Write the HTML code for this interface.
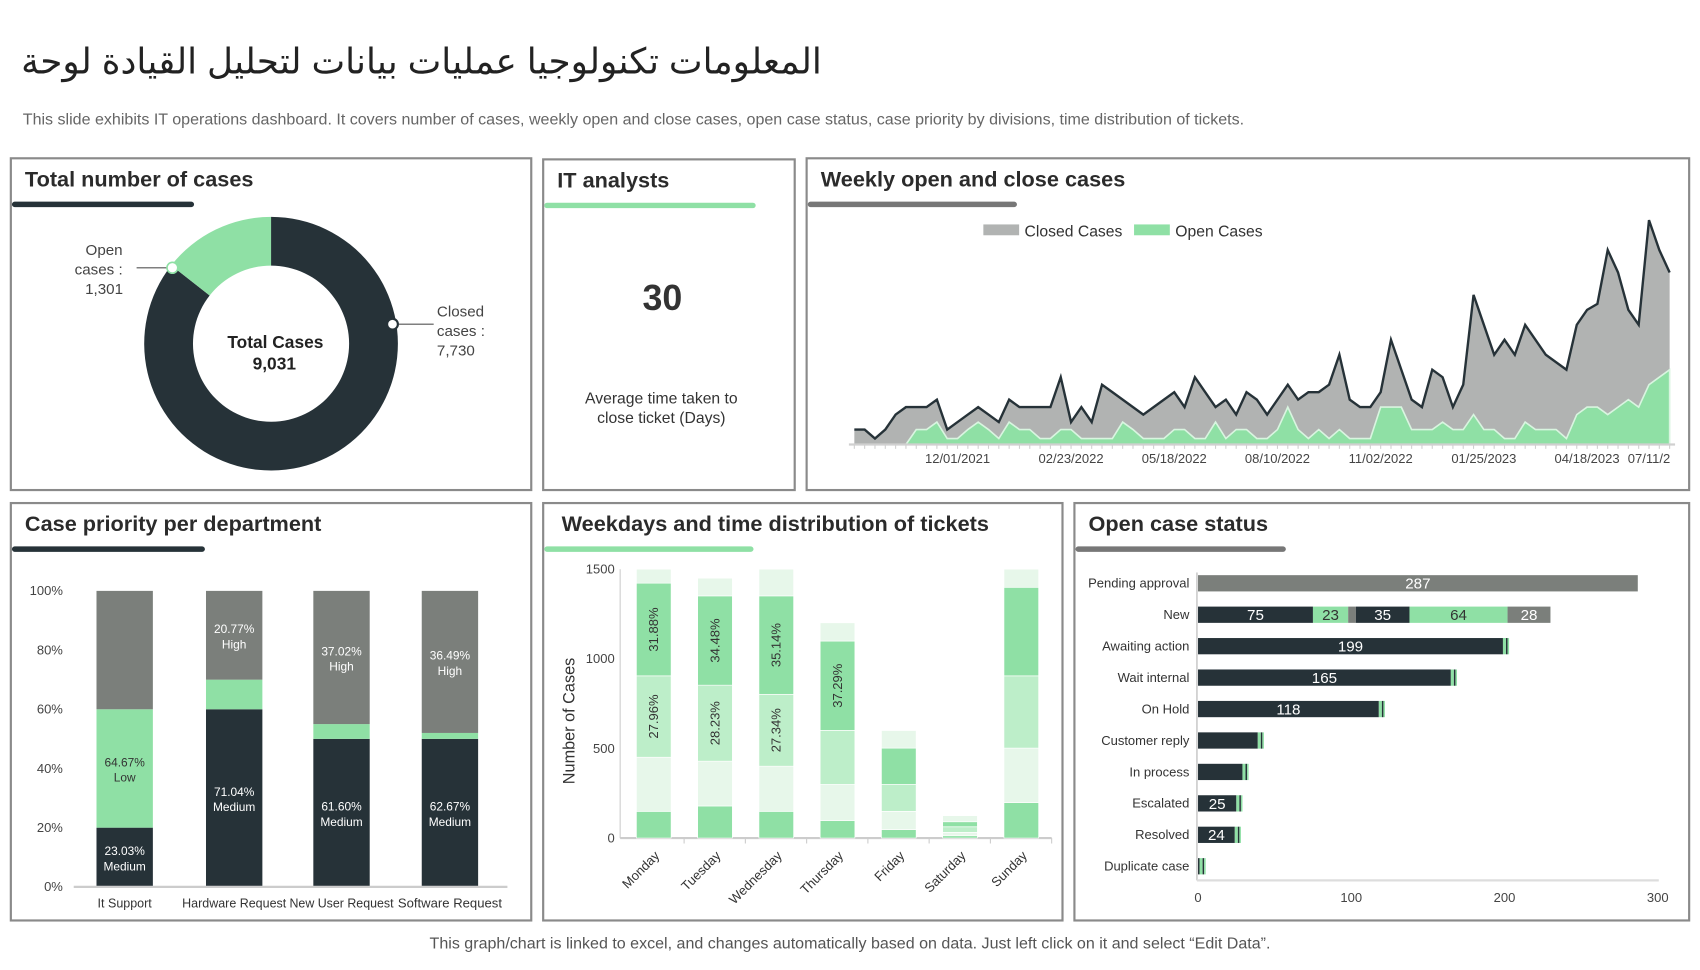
<!DOCTYPE html>
<html><head><meta charset="utf-8">
<style>
body{margin:0;background:#fff;overflow:hidden;width:1700px;height:970px}
#root{position:absolute;left:0;top:0;width:1568px;height:895px;transform:scale(1.08418);transform-origin:0 0;font-family:"Liberation Sans",sans-serif;color:#222}
.panel{position:absolute;border:2px solid #8a8a8a;box-sizing:border-box;background:#fff}
.ptitle{position:absolute;left:12px;top:8px;font-size:20px;font-weight:bold;color:#2b2b2b}
.bar{position:absolute;height:5px;border-radius:3px;top:39px;left:0}
svg{position:absolute;left:0;top:0}
svg text{font-family:"Liberation Sans",sans-serif}
</style></head><body>
<div id="root">
<div style="position:absolute;right:810px;top:37px;font-size:33px;font-family:'Liberation Sans','DejaVu Sans',sans-serif;color:#222;direction:rtl;white-space:nowrap">المعلومات تكنولوجيا عمليات بيانات لتحليل القيادة لوحة</div>
<div style="position:absolute;left:21px;top:103px;font-size:14.8px;color:#666;white-space:nowrap">This slide exhibits IT operations dashboard. It covers number of cases, weekly open and close cases, open case status, case priority by divisions, time distribution of tickets.</div>

<div class="panel" style="left:9px;top:145px;width:482px;height:308px"><div class="ptitle">Total number of cases</div><div class="bar" style="width:168px;background:#263238"></div></div>
<div class="panel" style="left:500px;top:146px;width:234px;height:307px"><div class="ptitle">IT analysts</div><div class="bar" style="width:195px;background:#8fe0a5"></div>
<div style="position:absolute;left:0;width:218px;top:108px;text-align:center;font-size:33px;font-weight:bold;color:#333">30</div>
<div style="position:absolute;left:0;width:216px;top:211px;text-align:center;font-size:14.5px;color:#333;line-height:18px">Average time taken to<br>close ticket (Days)</div></div>
<div class="panel" style="left:743px;top:145px;width:816px;height:308px"><div class="ptitle">Weekly open and close cases</div><div class="bar" style="width:193px;background:#777"></div></div>
<div class="panel" style="left:9px;top:463px;width:482px;height:387px"><div class="ptitle">Case priority per department</div><div class="bar" style="width:178px;background:#263238"></div></div>
<div class="panel" style="left:500px;top:463px;width:481px;height:387px"><div class="ptitle" style="left:16px">Weekdays and time distribution of tickets</div><div class="bar" style="width:193px;background:#8fe0a5"></div></div>
<div class="panel" style="left:990px;top:463px;width:569px;height:387px"><div class="ptitle">Open case status</div><div class="bar" style="width:194px;background:#777"></div></div>

<div style="position:absolute;left:0;width:1568px;top:863px;text-align:center;font-size:14.8px;color:#555">This graph/chart is linked to excel, and changes automatically based on data. Just left click on it and select “Edit Data”.</div>

<svg id="chart" width="1568" height="895"></svg>
</div>
<script>
// ---- donut data
const donutLabels = ["Open cases", "Closed cases"];
const donutValues = [1301, 7730];
// ---- weekly data
const weekClosed = [10,10,4,10,20,25,25,25,30,10,15,20,25,20,15,30,25,25,25,25,45,15,25,15,40,35,30,25,20,25,30,35,25,45,35,25,30,20,35,30,20,30,40,30,35,35,40,60,30,25,25,35,70,50,30,25,50,45,25,40,100,80,60,70,60,80,70,60,55,50,80,90,94,130,115,90,80,150,130,115];
const weekOpen = [0,0,0,0,0,0,10,10,15,4,4,10,15,10,4,15,10,10,4,4,10,10,4,4,4,4,15,10,4,4,4,10,10,4,4,15,4,10,10,4,4,10,25,10,4,10,4,10,4,4,4,25,25,25,10,10,10,15,10,10,20,10,10,4,4,15,10,10,10,4,20,25,25,20,25,30,25,40,45,50];
const weekTickIdx = [10,21,31,41,51,61,71,77];
const weekTickLabels = ["12/01/2021","02/23/2022","05/18/2022","08/10/2022","11/02/2022","01/25/2023","04/18/2023","07/11/2"];
// ---- priority data
const deptNames = ["It Support","Hardware Request","New User Request","Software Request"];
const prMedium = [20,60,50,50];
const prLow = [40,10,5,2];
const prHigh = [40,30,45,48];
const prMediumLbl = ["23.03%","71.04%","61.60%","62.67%"];
const prLowLbl = ["64.67%","","",""];
const prHighLbl = ["","20.77%","37.02%","36.49%"];
const prTicks = [0,20,40,60,80,100];
// ---- weekday data
const days = ["Monday","Tuesday","Wednesday","Thursday","Friday","Saturday","Sunday"];
const wd1 = [149,179,149,97,47,13,198];
const wd2 = [302,250,252,202,102,19,304];
const wd3 = [454,424,401,302,150,31,403];
const wd4 = [517,498,549,498,203,28,494];
const wd5 = [78,99,149,102,98,34,101];
const wd3Lbl = ["27.96%","28.23%","27.34%","","","",""];
const wd4Lbl = ["31.88%","34.48%","35.14%","37.29%","","",""];
const wdTicks = [0,500,1000,1500];
// ---- open status data
const statusNames = ["Pending approval","New","Awaiting action","Wait internal","On Hold","Customer reply","In process","Escalated","Resolved","Duplicate case"];
const statusMain = [287,75,199,165,118,39,29,25,24,1];
const newSegVals = [75,23,5,35,64,28];
const statusTicks = [0,100,200,300];

const NS="http://www.w3.org/2000/svg";
const svg=document.getElementById('chart');
function mk(tag,a,txt){const e=document.createElementNS(NS,tag);for(const k in a)e.setAttribute(k,a[k]);if(txt!==undefined)e.textContent=txt;svg.appendChild(e);return e;}
const DARK="#263238",GREEN="#8fe0a5",GRAY="#7b7f7b";

// ===== Donut
(function(){
 const cx=250,cy=317,R=117,r=72,tot=donutValues[0]+donutValues[1];
 function arc(a0,a1,col){
  const p=(rad,a)=>[cx+rad*Math.sin(a),cy-rad*Math.cos(a)];
  const large=(a1-a0)>Math.PI?1:0;
  const [x0,y0]=p(R,a0),[x1,y1]=p(R,a1),[x2,y2]=p(r,a1),[x3,y3]=p(r,a0);
  return mk('path',{d:`M${x0},${y0}A${R},${R} 0 ${large} 1 ${x1},${y1}L${x2},${y2}A${r},${r} 0 ${large} 0 ${x3},${y3}Z`,fill:col});
 }
 const aOpen=donutValues[0]/tot*2*Math.PI;
 const s1=arc(0,2*Math.PI-aOpen,DARK);
 
 
 const s2=arc(2*Math.PI-aOpen,2*Math.PI,GREEN);
 
 
 const t1=mk('text',{x:254,y:321,'text-anchor':'middle','font-size':16,'font-weight':'bold',fill:'#222'},'Total Cases');
 
 
 const t2=mk('text',{x:253,y:341,'text-anchor':'middle','font-size':16,'font-weight':'bold',fill:'#222'},tot.toLocaleString('en-US'));
 
 
 mk('line',{x1:126,y1:247,x2:154,y2:247,stroke:'#555','stroke-width':1});
 const c1=mk('circle',{cx:159,cy:247,r:5,fill:'#fff',stroke:GREEN,'stroke-width':1.5});
 
 
 mk('line',{x1:368,y1:299,x2:400,y2:299,stroke:'#555','stroke-width':1});
 const c2=mk('circle',{cx:362,cy:299,r:5,fill:'#fff',stroke:DARK,'stroke-width':2});
 
 
 const l1=[["Open",96,235],["cases :",91,253],[donutValues[0].toLocaleString('en-US'),96,271]];
 l1.forEach(v=>{const t=mk('text',{x:v[1],y:v[2],'text-anchor':'middle','font-size':14,fill:'#444'},v[0]);
  
  });
 const l2=[["Closed",403,292],["cases :",403,310],[donutValues[1].toLocaleString('en-US'),403,328]];
 l2.forEach(v=>{const t=mk('text',{x:v[1],y:v[2],'font-size':14,fill:'#444'},v[0]);
  
  });
})();

// ===== Weekly area
(function(){
 const x0=788,x1=1540,base=410,n=weekClosed.length;
 const X=i=>x0+i*(x1-x0)/(n-1), Y=v=>base-v*1.38;
 let d=`M${X(0)},${base}`;weekClosed.forEach((v,i)=>d+=`L${X(i)},${Y(v)}`);d+=`L${X(n-1)},${base}Z`;
 const a=mk('path',{d,fill:'#b1b3b2'});
 
 
 let d2=`M${X(0)},${base}`;weekOpen.forEach((v,i)=>d2+=`L${X(i)},${Y(v)}`);d2+=`L${X(n-1)},${base}Z`;
 const b=mk('path',{d:d2,fill:GREEN,stroke:'#d9f5e0','stroke-width':1.5});
 
 
 let d3='';weekClosed.forEach((v,i)=>d3+=(i?'L':'M')+X(i)+','+Y(v));
 const l=mk('path',{d:d3,fill:'none',stroke:DARK,'stroke-width':2.2});
 
 
 const ax=mk('line',{x1:783,y1:410,x2:1545,y2:410,stroke:'#d0d0d0','stroke-width':2});
 
 
 for(let i=0;i<n;i++){mk('line',{x1:X(i),y1:410,x2:X(i),y2:414,stroke:'#d0d0d0','stroke-width':1});}
 weekTickIdx.forEach((ix,k)=>{const t=mk('text',{x:X(ix),y:427,'text-anchor':'middle','font-size':12,fill:'#444'},weekTickLabels[k]);
  
  });
 const r1=mk('rect',{x:907,y:207,width:33,height:10,fill:'#b1b3b2'});
 
 
 const t1=mk('text',{x:945,y:218,'font-size':14.5,fill:'#333'},'Closed Cases');
 
 
 const r2=mk('rect',{x:1046,y:207,width:33,height:10,fill:GREEN});
 
 
 const t2=mk('text',{x:1084,y:218,'font-size':14.5,fill:'#333'},'Open Cases');
 
 
})();

// ===== Priority stacked 100%
(function(){
 const top=545,bot=818,Y=v=>bot-v*(bot-top)/100,xs=[89,190,289,389],w=52;
 prTicks.forEach(v=>{const t=mk('text',{x:58,y:Y(v)+4,'text-anchor':'end','font-size':12,fill:'#444'},v+'%');
  
  });
 deptNames.forEach((nm,i)=>{
  const segs=[[prMedium[i],DARK,prMediumLbl[i],'Medium'],[prLow[i],GREEN,prLowLbl[i],'Low'],[prHigh[i],GRAY,prHighLbl[i],'High']];
  let acc=0;
  segs.forEach(s=>{
   const y1=Y(acc+s[0]),y0=Y(acc);
   const r=mk('rect',{x:xs[i],y:y1,width:w,height:y0-y1,fill:s[1]});
   
   
   if(s[2]){const c=(y0+y1)/2,col=s[1]===GREEN?'#333':'#fff';
    const t=mk('text',{x:xs[i]+w/2,y:c-2,'text-anchor':'middle','font-size':11,fill:col},s[2]);
    
    
    const t2=mk('text',{x:xs[i]+w/2,y:c+12,'text-anchor':'middle','font-size':11,fill:col},s[3]);
    
    }
   acc+=s[0];
  });
  const t=mk('text',{x:xs[i]+w/2,y:837,'text-anchor':'middle','font-size':11.5,fill:'#333',textLength:nm.length>12?96:50,lengthAdjust:'spacingAndGlyphs'},nm);
  
  
 });
 const ax=mk('line',{x1:68,y1:818,x2:468,y2:818,stroke:'#ccc','stroke-width':2});
 
 
})();

// ===== Weekday stacked
(function(){
 const base=773,k=248/1500,Y=v=>base-v*k,x0=587,step=56.5,w=32;
 const cols=[GREEN,'#e7f7ea','#bdeec9',GREEN,'#e7f7ea'];
 const series=[wd1,wd2,wd3,wd4,wd5];
 wdTicks.forEach(v=>{const t=mk('text',{x:567,y:Y(v)+4,'text-anchor':'end','font-size':12,fill:'#444'},v);
  
  });
 mk('line',{x1:572,y1:525,x2:572,y2:773,stroke:'#ccc','stroke-width':1});
 const ax=mk('line',{x1:572,y1:773,x2:970,y2:773,stroke:'#ccc','stroke-width':2});
 
 
 days.forEach((d,i)=>{
  const x=x0+i*step;let acc=0;
  series.forEach((s,j)=>{
   const r=mk('rect',{x,y:Y(acc+s[i]),width:w,height:s[i]*k,fill:cols[j],stroke:'#fff','stroke-width':0.6});
   
   
   const lbl=j===2?wd3Lbl[i]:j===3?wd4Lbl[i]:'';
   if(lbl){const cy=Y(acc+s[i]/2);
    const t=mk('text',{x:x+w/2+4,y:cy,'text-anchor':'middle','font-size':12,fill:'#333',transform:`rotate(-90 ${x+w/2+4} ${cy})`},lbl);
    
    }
   acc+=s[i];
  });
  mk('line',{x1:x+w/2+28,y1:773,x2:x+w/2+28,y2:778,stroke:'#ccc'});
  const tx=x+w/2+6,ty=790;
  const t=mk('text',{x:tx,y:ty,'text-anchor':'end','font-size':12,fill:'#333',transform:`rotate(-45 ${tx} ${ty})`},d);
  
  
 });
 const yt=mk('text',{x:530,y:665,'text-anchor':'middle','font-size':15,fill:'#333',transform:'rotate(-90 530 665)'},'Number of Cases');
 
 
})();

// ===== Open case status
(function(){
 const x0=1105,k=424/300,X=v=>x0+v*k,y0=538,step=29,h=15;
 mk('line',{x1:1104,y1:528,x2:1104,y2:812,stroke:'#ccc','stroke-width':1.5});
 const ax=mk('line',{x1:1104,y1:812,x2:1530,y2:812,stroke:'#ddd','stroke-width':2});
 
 
 statusTicks.forEach(v=>{const t=mk('text',{x:X(v),y:832,'text-anchor':'middle','font-size':12,fill:'#444'},v);
  
  });
 statusNames.forEach((nm,i)=>{
  const y=y0+i*step;
  const t=mk('text',{x:1097,y:y+4,'text-anchor':'end','font-size':12,fill:'#333'},nm);
  
  
  if(i===0){
   const r=mk('rect',{x:X(0),y:y-h/2,width:statusMain[0]*k,height:h,fill:GRAY});
   
   
   const l=mk('text',{x:X(statusMain[0]/2),y:y+5,'text-anchor':'middle','font-size':14,fill:'#fff'},statusMain[0]);
   
   
  } else if(i===1){
   const cs=[DARK,GREEN,GRAY,DARK,GREEN,GRAY];let acc=0;
   newSegVals.forEach((v,j)=>{
    const r=mk('rect',{x:X(acc),y:y-h/2,width:v*k,height:h,fill:cs[j]});
    
    
    if(v>10){const l=mk('text',{x:X(acc+v/2),y:y+5,'text-anchor':'middle','font-size':14,fill:cs[j]===GREEN?'#333':'#fff'},v);
     
     }
    acc+=v;
   });
  } else {
   const v=statusMain[i];
   const r=mk('rect',{x:X(0),y:y-h/2,width:v*k,height:h,fill:DARK});
   
   
   const tail=[[2,GREEN],[1,DARK],[1,GREEN]];let acc=v;
   tail.forEach(s=>{const q=mk('rect',{x:X(acc),y:y-h/2,width:s[0]*k,height:h,fill:s[1]});
    
    acc+=s[0];});
   if(v>=24&&i!==5&&i!==6){const l=mk('text',{x:X(v/2),y:y+5,'text-anchor':'middle','font-size':14,fill:'#fff'},v);
    
    }
  }
 });
})();
</script>
</body></html>
